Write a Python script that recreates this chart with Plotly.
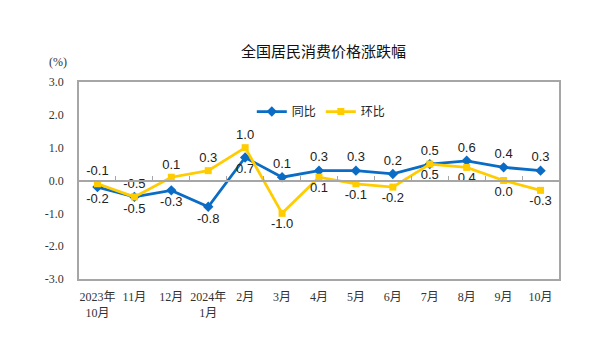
import plotly.graph_objects as go

categories = ["2023年<br>10月", "11月", "12月", "2024年<br>1月", "2月", "3月", "4月",
              "5月", "6月", "7月", "8月", "9月", "10月"]
yoy = [-0.2, -0.5, -0.3, -0.8, 0.7, 0.1, 0.3, 0.3, 0.2, 0.5, 0.6, 0.4, 0.3]
mom = [-0.1, -0.5, 0.1, 0.3, 1.0, -1.0, 0.1, -0.1, -0.2, 0.5, 0.4, 0.0, -0.3]
yoy_pos = ["bottom center"] * 5 + ["top center"] * 8
mom_pos = ["top center"] * 5 + ["bottom center"] * 8
y_ticks = [-3, -2, -1, 0, 1, 2, 3]
y_tick_text = [f"{v:.1f}" for v in y_ticks]

idx = list(range(len(categories)))
blue = "#0A6CC4"
yellow = "#FFCC00"

fig = go.Figure()
fig.add_trace(go.Scatter(
    x=idx, y=yoy, name="同比", mode="lines+markers+text",
    line=dict(color=blue, width=2.8),
    marker=dict(symbol="diamond", size=8, color=blue),
    text=[f"{v:.1f}" for v in yoy], textposition=yoy_pos,
    textfont=dict(family="Liberation Sans, Arial", size=13, color="#222"),
))
fig.add_trace(go.Scatter(
    x=idx, y=mom, name="环比", mode="lines+markers+text",
    line=dict(color=yellow, width=2.8),
    marker=dict(symbol="square", size=7, color=yellow),
    text=[f"{v:.1f}" for v in mom], textposition=mom_pos,
    textfont=dict(family="Liberation Sans, Arial", size=13, color="#222"),
))
# invisible trace for zero-line tick axis
fig.add_trace(go.Scatter(x=[-0.5, 12.5], y=[0, 0], xaxis="x2", mode="lines",
                         line=dict(color="rgba(0,0,0,0)"), showlegend=False, hoverinfo="skip"))

fig.update_layout(
    width=600, height=345,
    margin=dict(l=79, r=41, t=82, b=66),
    paper_bgcolor="white", plot_bgcolor="white",
    title=dict(text="全国居民消费价格涨跌幅", x=0.539, xanchor="center", y=0.85, yanchor="middle",
               font=dict(family="Noto Sans CJK SC", size=15, color="#111")),
    showlegend=True,
    legend=dict(orientation="h", x=0.36, y=0.85, xanchor="left", yanchor="middle",
                font=dict(family="Noto Sans CJK SC", size=12, color="#222"),
                bgcolor="rgba(0,0,0,0)", itemwidth=30, tracegroupgap=0),
    xaxis=dict(range=[-0.5, 12.5], tickmode="array", tickvals=idx, ticktext=categories,
               showgrid=False, zeroline=False, showline=True, linecolor="#A6A6A6", linewidth=1.5,
               mirror=True, ticks="", ticklabelstandoff=6,
               tickfont=dict(family="Liberation Serif, Noto Sans CJK SC", size=12, color="#333")),
    xaxis2=dict(range=[-0.5, 12.5], overlaying="x", anchor="free", position=0.5,
                showline=True, linecolor="#A6A6A6", linewidth=1.5,
                tickmode="array", tickvals=[i + 0.5 for i in idx[:-1]],
                ticks="inside", ticklen=4, tickcolor="#A6A6A6", showticklabels=False,
                showgrid=False, zeroline=False),
    yaxis=dict(range=[-3, 3], tickmode="array", tickvals=y_ticks, ticktext=y_tick_text,
               showgrid=False, zeroline=False, showline=True, linecolor="#A6A6A6", linewidth=1.5,
               mirror=True, ticks="", ticklabelstandoff=11,
               tickfont=dict(family="Liberation Serif", size=12, color="#333")),
    annotations=[dict(text="(%)", xref="paper", yref="paper", x=-0.02, y=1.1,
                      xanchor="right", yanchor="middle", showarrow=False,
                      font=dict(family="Liberation Serif", size=12, color="#333"))],
)

fig.write_html("out.html")
